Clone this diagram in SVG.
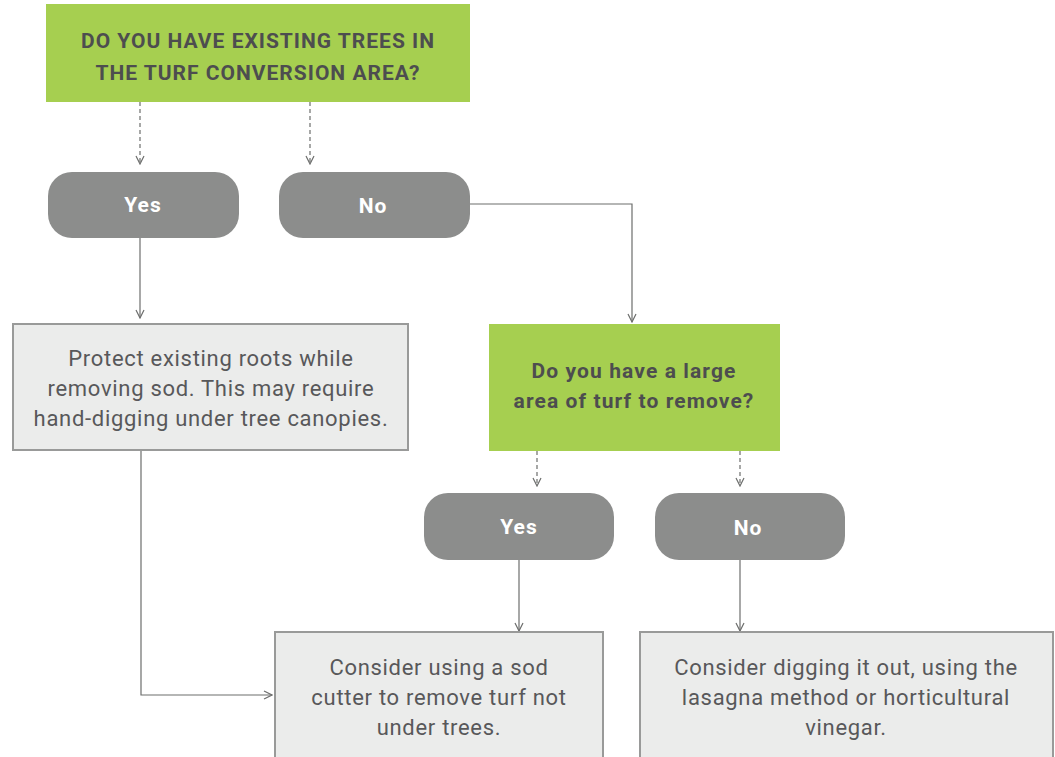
<svg xmlns="http://www.w3.org/2000/svg" width="1055" height="757" viewBox="0 0 1055 757">
<style>
.q{fill:#a6cf50}
.pill{fill:#8c8d8c}
.box{fill:#ebeceb;stroke:#999a99;stroke-width:2}
.qt{font-family:Roboto,"Liberation Sans",sans-serif;font-weight:bold;fill:#4d4d4f;text-anchor:middle;font-size:21px}
.pt{font-family:Roboto,"Liberation Sans",sans-serif;font-weight:bold;fill:#ffffff;text-anchor:middle;font-size:21px;letter-spacing:1px}
.bt{font-family:Roboto,"Liberation Sans",sans-serif;fill:#58585a;text-anchor:middle;font-size:22px;letter-spacing:0.7px}
.c{fill:none;stroke:#6d6e6d;stroke-width:1.2}
.d{stroke-dasharray:4 3}
</style>
<defs>
<marker id="ah" viewBox="0 0 10 10" refX="9" refY="5" markerWidth="10" markerHeight="10" markerUnits="userSpaceOnUse" orient="auto">
<path d="M1,1 L9,5 L1,9" fill="none" stroke="#6d6e6d" stroke-width="1.2"/>
</marker>
</defs>
<rect width="1055" height="757" fill="#ffffff"/>
<g id="connectors">
<path class="c d" d="M140,102 V164" marker-end="url(#ah)"/>
<path class="c d" d="M310,102 V164" marker-end="url(#ah)"/>
<path class="c" d="M140,238 V318" marker-end="url(#ah)"/>
<path class="c" d="M470,204 H632 V322" marker-end="url(#ah)"/>
<path class="c" d="M141,450 V695 H272" marker-end="url(#ah)"/>
<path class="c d" d="M537,451 V486" marker-end="url(#ah)"/>
<path class="c d" d="M740,451 V486" marker-end="url(#ah)"/>
<path class="c" d="M519,560 V631" marker-end="url(#ah)"/>
<path class="c" d="M740,560 V631" marker-end="url(#ah)"/>
</g>
<g id="q1">
<rect class="q" x="46" y="4" width="424" height="98"/>
<text class="qt" letter-spacing="1" x="258" y="48">DO YOU HAVE EXISTING TREES IN</text>
<text class="qt" letter-spacing="1" x="258" y="80">THE TURF CONVERSION AREA?</text>
</g>
<g id="yes1">
<rect class="pill" x="48" y="172" width="191" height="66" rx="24"/>
<text class="pt" x="143" y="212">Yes</text>
</g>
<g id="no1">
<rect class="pill" x="279" y="172" width="191" height="66" rx="24"/>
<text class="pt" x="373" y="213">No</text>
</g>
<g id="protect">
<rect class="box" x="13" y="324" width="395" height="126"/>
<text class="bt" x="211" y="366">Protect existing roots while</text>
<text class="bt" x="211" y="396">removing sod. This may require</text>
<text class="bt" x="211" y="426">hand-digging under tree canopies.</text>
</g>
<g id="q2">
<rect class="q" x="489" y="324" width="291" height="127"/>
<text class="qt" letter-spacing="1.1" x="634" y="378">Do you have a large</text>
<text class="qt" letter-spacing="1.1" x="634" y="408">area of turf to remove?</text>
</g>
<g id="yes2">
<rect class="pill" x="424" y="493" width="190" height="67" rx="24"/>
<text class="pt" x="519" y="534">Yes</text>
</g>
<g id="no2">
<rect class="pill" x="655" y="493" width="190" height="67" rx="24"/>
<text class="pt" x="748" y="535">No</text>
</g>
<g id="sodcutter">
<rect class="box" x="275" y="632" width="328" height="140"/>
<text class="bt" x="439" y="675">Consider using a sod</text>
<text class="bt" x="439" y="705">cutter to remove turf not</text>
<text class="bt" x="439" y="735">under trees.</text>
</g>
<g id="digging">
<rect class="box" x="640" y="632" width="413" height="140"/>
<text class="bt" x="846" y="675">Consider digging it out, using the</text>
<text class="bt" x="846" y="705">lasagna method or horticultural</text>
<text class="bt" x="846" y="735">vinegar.</text>
</g>
</svg>
